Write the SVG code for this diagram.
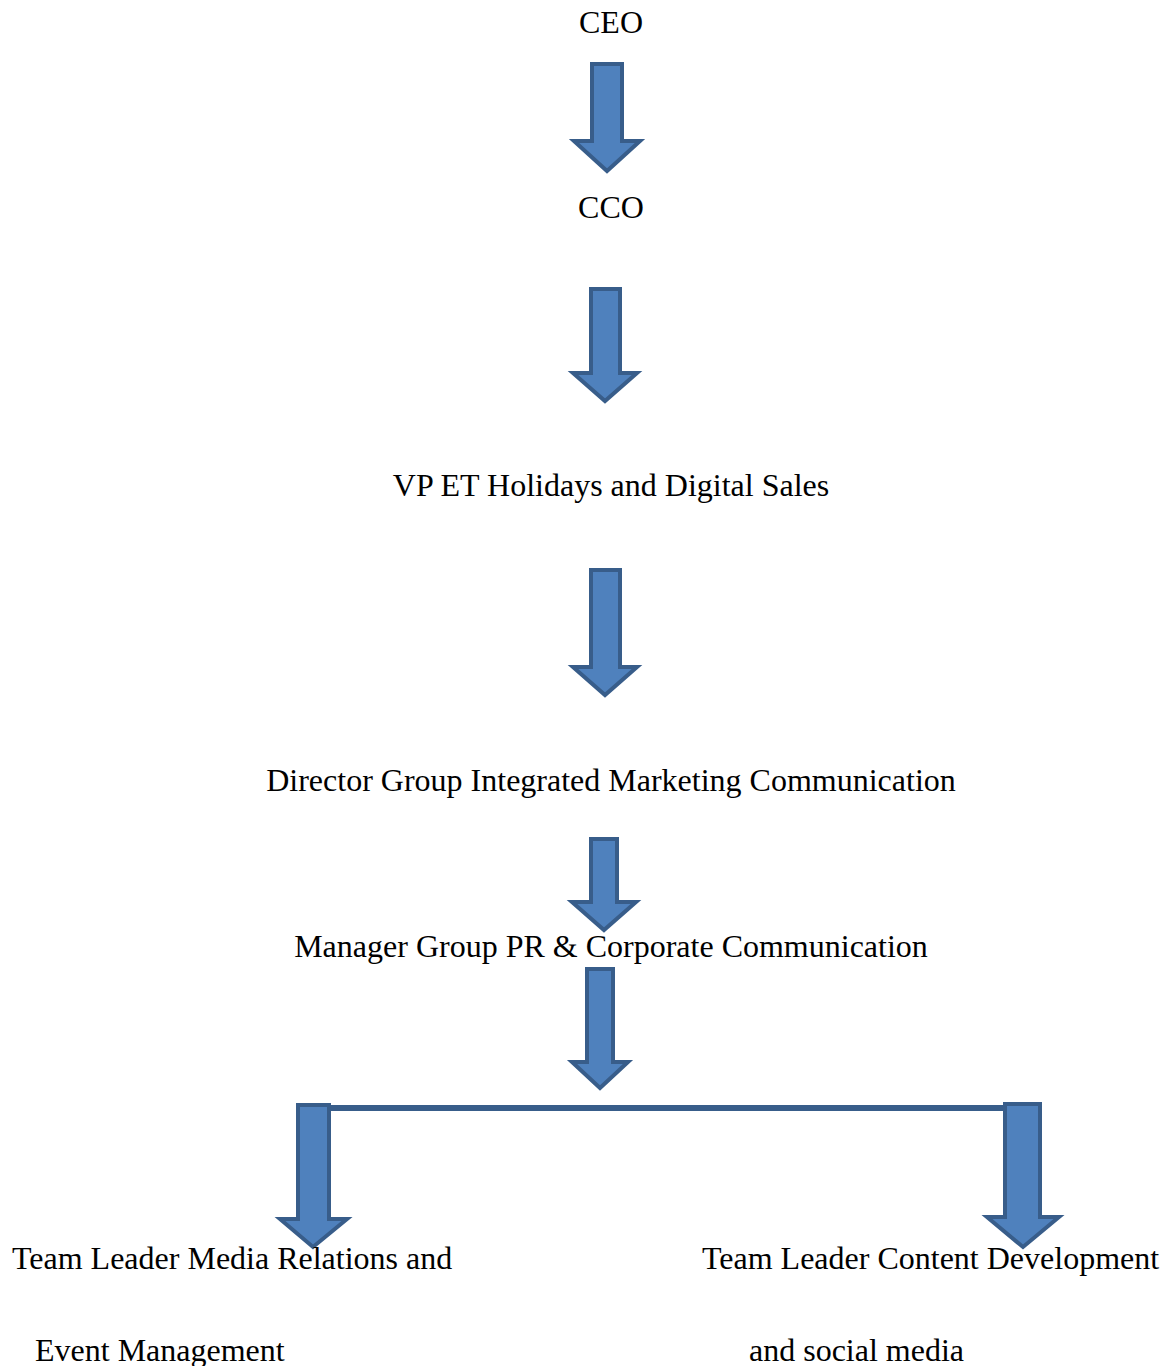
<svg xmlns="http://www.w3.org/2000/svg" width="1168" height="1366" viewBox="0 0 1168 1366">
<style>
.t{font-family:"Liberation Serif","Times New Roman",serif;font-size:32px;fill:#000}
.a{fill:#4f81bd;stroke:#385d8a;stroke-width:4;stroke-linejoin:miter}
</style>
<rect width="1168" height="1366" fill="#fff"/>
<g id="connectors">
<path class="a" d="M592,64 H622 V141 H640 L607,171 L574,141 H592 Z"/>
<path class="a" d="M591,289 H620 V373 H637 L605,401 L573,373 H591 Z"/>
<path class="a" d="M591,570 H620 V667 H637 L605,695 L573,667 H591 Z"/>
<path class="a" d="M591,839 H617 V902 H636 L604,930 L572,902 H591 Z"/>
<path class="a" d="M587,969 H613 V1062 H628 L600,1088 L572,1062 H587 Z"/>
<line x1="329" y1="1108" x2="1005" y2="1108" stroke="#385d8a" stroke-width="6"/>
<path class="a" d="M298,1105 H329 V1219 H347 L313,1247 L280,1219 H298 Z"/>
<path class="a" d="M1005,1104 H1040 V1217 H1059 L1023,1247 L987,1217 H1005 Z"/>
</g>
<g id="ceo"><text class="t" x="611" y="33" text-anchor="middle">CEO</text></g>
<g id="cco"><text class="t" x="611" y="218" text-anchor="middle">CCO</text></g>
<g id="vp"><text class="t" x="611" y="496" text-anchor="middle">VP ET Holidays and Digital Sales</text></g>
<g id="director"><text class="t" x="611" y="791" text-anchor="middle">Director Group Integrated Marketing Communication</text></g>
<g id="manager"><text class="t" x="611" y="957" text-anchor="middle">Manager Group PR &amp; Corporate Communication</text></g>
<g id="tl-media">
<text class="t" x="12" y="1269">Team Leader Media Relations and</text>
<text class="t" x="35" y="1361">Event Management</text>
</g>
<g id="tl-content">
<text class="t" x="702" y="1269">Team Leader Content Development</text>
<text class="t" x="749" y="1361">and social media</text>
</g>
</svg>
